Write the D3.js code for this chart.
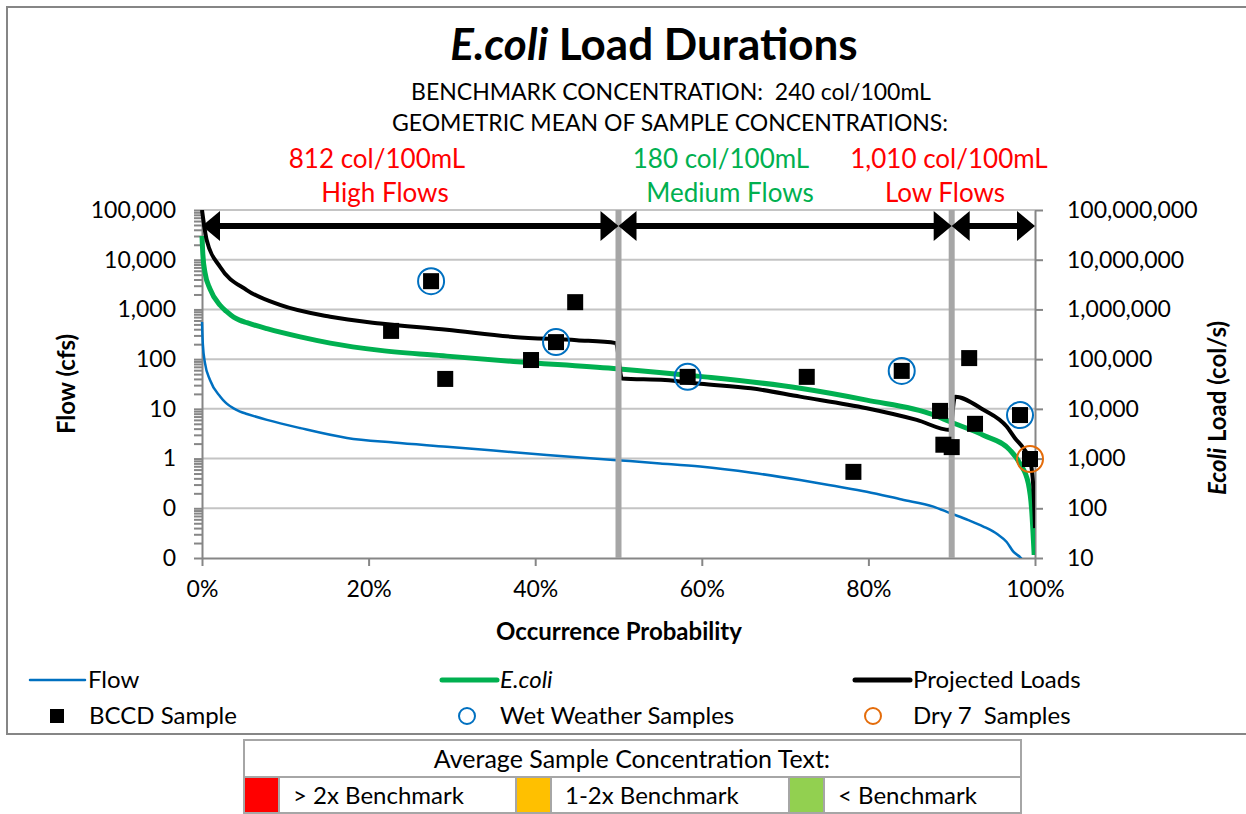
<!DOCTYPE html>
<html>

<head>
	<meta charset="utf-8">
	<script src="https://cdn.jsdelivr.net/npm/d3@7"></script>
	<style>
		body {
			margin: 0;
			background: #fff;
		}

		svg text {
			font-family: Lato, "Open Sans", sans-serif;
			fill: #000;
		}

		.grid line {
			stroke: #c4c4c4;
			stroke-width: 2;
		}

		.axis path,
		.axis line {
			stroke: #868686;
			stroke-width: 2;
		}

		.axis text {
			font-size: 23px;
		}
	</style>
</head>

<body>
	<svg></svg>
	<script>
		// flow duration curve (cfs, left axis)
		var flowPct = [0, 0.1, 0.36, 0.96, 2.2, 2.9, 3.8, 4.5, 5.4, 7.8, 11.8, 17.4, 23, 29.4, 35, 41.4, 49.8, 55, 59.8, 66, 71.8, 76, 79.8, 84, 87.8, 89.8, 92, 93.8, 95.5, 96.6, 97.4, 98.3, 98.5];
		var flowCfs = [560, 200, 83, 38, 17.6, 13, 10.2, 8.9, 7.9, 6.0, 4.1, 2.6, 2.1, 1.73, 1.45, 1.18, 0.93, 0.8, 0.69, 0.52, 0.37, 0.28, 0.216, 0.15, 0.108, 0.08, 0.058, 0.043, 0.03, 0.021, 0.0134, 0.01, 0.009];

		// E.coli benchmark load curve (col/s, right axis)
		var ecoliPct = [0, 0.1, 0.36, 0.96, 2.2, 2.9, 3.8, 4.5, 5.4, 7.8, 11.8, 15.4, 21.4, 29.4, 37.4, 49.4, 59.8, 71.8, 79.8, 87.8, 89.8, 93.8, 97.0, 98.2, 99.2, 99.6, 99.9];
		var ecoliLoad = [3.0e7, 1.3e7, 5.5e6, 2.6e6, 1.2e6, 9.2e5, 7.0e5, 6.1e5, 5.4e5, 4.1e5, 2.8e5, 2.1e5, 1.5e5, 1.15e5, 9.0e4, 6.5e4, 4.5e4, 2.6e4, 1.5e4, 7.6e3, 5.5e3, 2.95e3, 1.48e3, 790, 316, 93, 11.5];

		// projected loads (col/s, right axis)
		var projPct = [0, 0.56, 2.16, 5.37, 9.36, 15.4, 21.4, 29.4, 37.4, 45, 49.7, 50.4, 55.6, 59.8, 65.9, 71.8, 79.8, 85.8, 89.8, 90.4, 93.8, 96.6, 97.6, 98.6, 99.4, 99.8, 100];
		var projLoad = [1.0e8, 2.5e7, 7.2e6, 2.45e6, 1.23e6, 7.1e5, 5.2e5, 3.9e5, 2.8e5, 2.4e5, 2.1e5, 4.1e4, 3.8e4, 3.2e4, 2.6e4, 1.76e4, 1.03e4, 6.0e3, 3.76e3, 1.76e4, 9.6e3, 4.4e3, 2.57e3, 1.62e3, 940, 270, 40];

		// samples (col/s)
		var bccdPct = [22.7, 27.5, 29.2, 39.5, 42.5, 44.8, 58.3, 72.6, 78.2, 84.0, 88.6, 89.0, 90.0, 92.1, 92.8, 98.2, 99.4];
		var bccdLoad = [3.7e5, 3.7e6, 4.0e4, 9.6e4, 2.2e5, 1.4e6, 4.4e4, 4.4e4, 540, 5.8e4, 9.1e3, 1.9e3, 1.7e3, 1.05e5, 5.0e3, 7.5e3, 980];
		var wetPct = [27.5, 42.5, 58.3, 84.0, 98.2];
		var wetLoad = [3.7e6, 2.2e5, 4.4e4, 5.8e4, 7.5e3];
		var dryPct = [99.4];
		var dryLoad = [980];

		// flow zones
		var zoneBounds = [0, 50, 90, 100];
		var zoneConc = ["812 col/100mL", "180 col/100mL", "1,010 col/100mL"];
		var zoneNames = ["High Flows", "Medium Flows", "Low Flows"];
		var zoneColors = ["#ff0000", "#00b050", "#ff0000"];

		var flowTicks = [0.01, 0.1, 1, 10, 100, 1000, 10000, 100000];
		var loadTicks = [10, 100, 1000, 1e4, 1e5, 1e6, 1e7, 1e8];
		var pctTicks = [0, 20, 40, 60, 80, 100];

		var tableLabels = ["> 2x Benchmark", "1-2x Benchmark", "< Benchmark"];
		var tableColors = ["#ff0000", "#ffc000", "#92d050"];

		var width = 1246, height = 814;
		var plot = { left: 202, right: 1035, top: 210, bottom: 558 };

		var svg = d3.select("svg")
			.attr("width", width)
			.attr("height", height);

		// chart frame
		svg.append("rect")
			.attr("x", 7).attr("y", 7)
			.attr("width", 1250).attr("height", 727)
			.attr("fill", "none")
			.attr("stroke", "#868686")
			.attr("stroke-width", 2);

		var x = d3.scaleLinear().domain([0, 100]).range([plot.left, plot.right]);
		var yFlow = d3.scaleLog().domain([0.01, 100000]).range([plot.bottom, plot.top]);
		var yLoad = d3.scaleLog().domain([10, 1e8]).range([plot.bottom, plot.top]);

		svg.append("clipPath").attr("id", "clip")
			.append("rect")
			.attr("x", plot.left - 3).attr("y", plot.top)
			.attr("width", plot.right - plot.left + 3)
			.attr("height", plot.bottom - plot.top);

		// gridlines
		svg.append("g")
			.attr("class", "grid")
			.selectAll("line")
			.data(flowTicks.slice(1))
			.enter()
			.append("line")
			.attr("x1", plot.left).attr("x2", plot.right)
			.attr("y1", d => yFlow(d)).attr("y2", d => yFlow(d));

		// axes
		var minor = [];
		flowTicks.slice(0, -1).forEach(function (d) {
			for (var k = 2; k < 10; k++) minor.push(d * k);
		});
		svg.append("g")
			.attr("class", "axis")
			.attr("transform", "translate(" + plot.left + ",0)")
			.call(d3.axisLeft(yFlow).tickValues(minor).tickFormat("").tickSize(8).tickSizeOuter(0))
			.select(".domain").remove();

		svg.append("g")
			.attr("class", "axis")
			.attr("transform", "translate(" + plot.left + ",0)")
			.call(d3.axisLeft(yFlow).tickValues(flowTicks).tickSize(8).tickSizeOuter(0).tickPadding(18)
				.tickFormat(d => d < 1 ? "0" : d3.format(",")(d)));

		svg.append("g")
			.attr("class", "axis")
			.attr("transform", "translate(" + plot.right + ",0)")
			.call(d3.axisRight(yLoad).tickValues(loadTicks).tickSize(8).tickSizeOuter(0).tickPadding(24)
				.tickFormat(d3.format(",")));

		svg.append("g")
			.attr("class", "axis")
			.attr("transform", "translate(0," + plot.bottom + ")")
			.call(d3.axisBottom(x).tickValues(pctTicks).tickSize(8).tickSizeOuter(0).tickPadding(15)
				.tickFormat(d => d + "%"));

		// axis titles
		svg.append("text")
			.attr("transform", "translate(67,384) rotate(-90)")
			.attr("text-anchor", "middle")
			.attr("dy", "0.35em")
			.attr("font-size", 24)
			.attr("font-weight", "bold")
			.text("Flow (cfs)");

		var rt = svg.append("text")
			.attr("transform", "translate(1218,408) rotate(-90)")
			.attr("text-anchor", "middle")
			.attr("dy", "0.35em")
			.attr("font-size", 24)
			.attr("font-weight", "bold");
		rt.append("tspan").attr("font-style", "italic").text("Ecoli");
		rt.append("tspan").text(" Load (col/s)");

		svg.append("text")
			.attr("x", 619).attr("y", 632)
			.attr("text-anchor", "middle")
			.attr("dy", "0.35em")
			.attr("font-size", 24)
			.attr("font-weight", "bold")
			.text("Occurrence Probability");

		// curves
		var lines = svg.append("g").attr("clip-path", "url(#clip)");

		var flowLine = d3.line()
			.curve(d3.curveMonotoneX)
			.x(d => x(d[0]))
			.y(d => yFlow(d[1]));
		var loadLine = d3.line()
			.curve(d3.curveMonotoneX)
			.x(d => x(d[0]))
			.y(d => yLoad(d[1]));

		lines.append("path")
			.attr("d", flowLine(d3.zip(flowPct, flowCfs)))
			.attr("fill", "none")
			.attr("stroke", "#0070c0")
			.attr("stroke-width", 2.5);

		lines.append("path")
			.attr("d", loadLine(d3.zip(ecoliPct, ecoliLoad)))
			.attr("fill", "none")
			.attr("stroke", "#00b050")
			.attr("stroke-width", 5);

		lines.append("path")
			.attr("d", loadLine(d3.zip(projPct, projLoad)))
			.attr("fill", "none")
			.attr("stroke", "#000")
			.attr("stroke-width", 4);

		// zone separators
		svg.selectAll(".sep")
			.data(zoneBounds.slice(1, -1))
			.enter()
			.append("line")
			.attr("class", "sep")
			.attr("x1", d => x(d)).attr("x2", d => x(d))
			.attr("y1", plot.top).attr("y2", plot.bottom)
			.attr("stroke", "#a6a6a6")
			.attr("stroke-width", 6);

		// zone arrows
		var ay = 226, head = 18, half = 15;
		var zones = d3.pairs(zoneBounds);
		var arrows = svg.append("g");
		arrows.selectAll("line")
			.data(zones)
			.enter()
			.append("line")
			.attr("x1", d => x(d[0]) + 10).attr("x2", d => x(d[1]) - 10)
			.attr("y1", ay).attr("y2", ay)
			.attr("stroke", "#000")
			.attr("stroke-width", 6);
		arrows.selectAll("path")
			.data(zones.flatMap(d => [[x(d[0]), 1], [x(d[1]), -1]]))
			.enter()
			.append("path")
			.attr("d", d => "M" + d[0] + "," + ay + "L" + (d[0] + d[1] * head) + "," + (ay - half) +
				"L" + (d[0] + d[1] * head) + "," + (ay + half) + "Z")
			.attr("fill", "#000");

		// samples
		svg.append("g")
			.selectAll("rect")
			.data(d3.zip(bccdPct, bccdLoad))
			.enter()
			.append("rect")
			.attr("x", d => x(d[0]) - 8)
			.attr("y", d => yLoad(d[1]) - 8)
			.attr("width", 16).attr("height", 16)
			.attr("fill", "#000");

		svg.append("g")
			.selectAll("circle")
			.data(d3.zip(wetPct, wetLoad))
			.enter()
			.append("circle")
			.attr("cx", d => x(d[0]))
			.attr("cy", d => yLoad(d[1]))
			.attr("r", 13)
			.attr("fill", "none")
			.attr("stroke", "#0070c0")
			.attr("stroke-width", 2);

		svg.append("g")
			.selectAll("circle")
			.data(d3.zip(dryPct, dryLoad))
			.enter()
			.append("circle")
			.attr("cx", d => x(d[0]))
			.attr("cy", d => yLoad(d[1]))
			.attr("r", 13)
			.attr("fill", "none")
			.attr("stroke", "#e46c0a")
			.attr("stroke-width", 2);

		// titles
		var title = svg.append("text")
			.attr("x", 654).attr("y", 60)
			.attr("text-anchor", "middle")
			.attr("font-size", 44)
			.attr("font-weight", "bold");
		title.append("tspan").attr("font-style", "italic").text("E.coli");
		title.append("tspan").text(" Load Durations");

		svg.append("text")
			.attr("x", 671).attr("y", 100)
			.attr("text-anchor", "middle")
			.attr("font-size", 23)
			.style("white-space", "pre")
			.text("BENCHMARK CONCENTRATION:  240 col/100mL");

		svg.append("text")
			.attr("x", 670).attr("y", 131)
			.attr("text-anchor", "middle")
			.attr("font-size", 23)
			.text("GEOMETRIC MEAN OF SAMPLE CONCENTRATIONS:");

		var zoneX = [[377, 385], [721, 730], [949, 945]];
		zoneConc.forEach(function (t, i) {
			svg.append("text")
				.attr("x", zoneX[i][0]).attr("y", 168)
				.attr("text-anchor", "middle")
				.attr("font-size", 26)
				.style("fill", zoneColors[i])
				.text(t);
			svg.append("text")
				.attr("x", zoneX[i][1]).attr("y", 202)
				.attr("text-anchor", "middle")
				.attr("font-size", 26)
				.style("fill", zoneColors[i])
				.text(zoneNames[i]);
		});

		// legend
		var legend = svg.append("g").attr("font-size", 24);
		var lineItems = [
			{ x: 30, color: "#0070c0", w: 2.5, label: "Flow", italic: false },
			{ x: 442, color: "#00b050", w: 5, label: "E.coli", italic: true },
			{ x: 855, color: "#000", w: 5, label: "Projected Loads", italic: false }
		];
		lineItems.forEach(function (d) {
			legend.append("line")
				.attr("x1", d.x).attr("x2", d.x + 55)
				.attr("y1", 680).attr("y2", 680)
				.attr("stroke", d.color)
				.attr("stroke-width", d.w)
				.attr("stroke-linecap", "round");
			legend.append("text")
				.attr("x", d.x + 58).attr("y", 680)
				.attr("dy", "0.35em")
				.attr("font-style", d.italic ? "italic" : "normal")
				.text(d.label);
		});
		legend.append("rect")
			.attr("x", 50).attr("y", 709)
			.attr("width", 14).attr("height", 14)
			.attr("fill", "#000");
		legend.append("text")
			.attr("x", 89).attr("y", 716).attr("dy", "0.35em")
			.text("BCCD Sample");
		legend.append("circle")
			.attr("cx", 467).attr("cy", 716).attr("r", 8)
			.attr("fill", "none").attr("stroke", "#0070c0").attr("stroke-width", 2);
		legend.append("text")
			.attr("x", 500).attr("y", 716).attr("dy", "0.35em")
			.text("Wet Weather Samples");
		legend.append("circle")
			.attr("cx", 873).attr("cy", 716).attr("r", 8)
			.attr("fill", "none").attr("stroke", "#e46c0a").attr("stroke-width", 2);
		legend.append("text")
			.attr("x", 913).attr("y", 716).attr("dy", "0.35em")
			.style("white-space", "pre")
			.text("Dry 7  Samples");

		// concentration key table
		var table = svg.append("g").attr("font-size", 24);
		table.append("rect")
			.attr("x", 244).attr("y", 740)
			.attr("width", 777).attr("height", 73)
			.attr("fill", "#fff")
			.attr("stroke", "#a6a6a6")
			.attr("stroke-width", 2);
		table.append("line")
			.attr("x1", 244).attr("x2", 1021)
			.attr("y1", 777).attr("y2", 777)
			.attr("stroke", "#a6a6a6").attr("stroke-width", 2);
		table.append("text")
			.attr("x", 632).attr("y", 759).attr("dy", "0.35em")
			.attr("text-anchor", "middle")
			.attr("font-size", 25)
			.text("Average Sample Concentration Text:");
		var cellX = [245, 517, 790];
		tableLabels.forEach(function (t, i) {
			table.append("rect")
				.attr("x", cellX[i]).attr("y", 778)
				.attr("width", 33).attr("height", 34)
				.attr("fill", tableColors[i]);
			table.append("line")
				.attr("x1", cellX[i] + 34).attr("x2", cellX[i] + 34)
				.attr("y1", 777).attr("y2", 813)
				.attr("stroke", "#a6a6a6").attr("stroke-width", 2);
			if (i > 0) {
				table.append("line")
					.attr("x1", cellX[i] - 1).attr("x2", cellX[i] - 1)
					.attr("y1", 777).attr("y2", 813)
					.attr("stroke", "#a6a6a6").attr("stroke-width", 2);
			}
			table.append("text")
				.attr("x", cellX[i] + 48).attr("y", 796).attr("dy", "0.35em")
				.text(t);
		});
	</script>
</body>

</html>
